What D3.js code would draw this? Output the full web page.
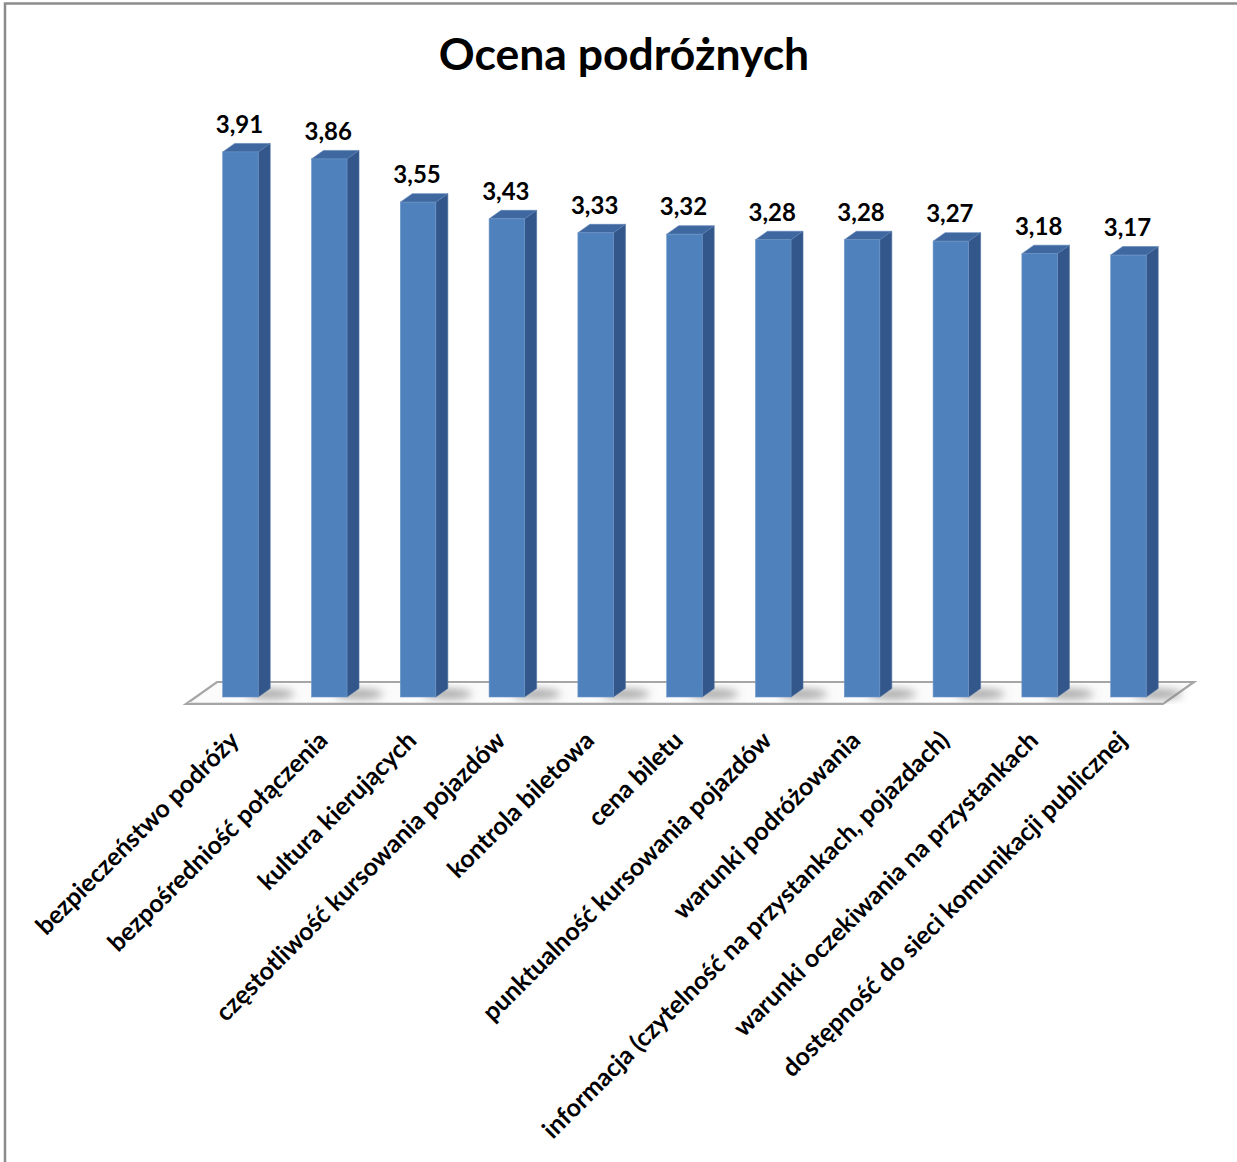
<!DOCTYPE html>
<html>
<head>
<meta charset="utf-8">
<script src="https://cdn.jsdelivr.net/npm/d3@7/dist/d3.min.js"></script>
<style>
  html, body { margin: 0; padding: 0; background: #fff; }
  svg { display: block; }
  text { font-family: Lato, "Open Sans", "DejaVu Sans", sans-serif; font-weight: bold; fill: #000; }
</style>
</head>
<body>
<script>
// Passenger ratings of public transport aspects
const categories = [
  "bezpieczeństwo podróży",
  "bezpośredniość połączenia",
  "kultura kierujących",
  "częstotliwość kursowania pojazdów",
  "kontrola biletowa",
  "cena biletu",
  "punktualność kursowania pojazdów",
  "warunki podróżowania",
  "informacja (czytelność na przystankach, pojazdach)",
  "warunki oczekiwania na przystankach",
  "dostępność do sieci komunikacji publicznej"
];
const values = [3.91, 3.86, 3.55, 3.43, 3.33, 3.32, 3.28, 3.28, 3.27, 3.18, 3.17];
const valueLabels = ["3,91", "3,86", "3,55", "3,43", "3,33", "3,32", "3,28", "3,28", "3,27", "3,18", "3,17"];
const title = "Ocena podróżnych";

const W = 1237, H = 1162;
const svg = d3.select("body").append("svg").attr("width", W).attr("height", H);

// outer chart frame (top and left edges visible)
svg.append("rect").attr("x", 5).attr("y", 3.5).attr("width", W + 10).attr("height", H + 10)
  .attr("fill", "none").attr("stroke", "#8c8c8c").attr("stroke-width", 2.5);

svg.append("text").attr("x", 624).attr("y", 70).attr("text-anchor", "middle")
  .attr("font-size", 44.5).text(title);

const base = 697;
const x = d3.scaleBand().domain(categories).range([178.3, 1190.6])
  .paddingInner(0.6).paddingOuter(0.5);
const y = d3.scaleLinear().domain([0, 4]).range([base, base - 4 * 139.4]);

// bar depth offsets (3-D extrusion)
const dx = 12, dy = -8.5;
// floor depth offsets
const fdx = 31, fdy = -22;

const defs = svg.append("defs");
defs.append("filter").attr("id", "soft").attr("x", "-50%").attr("y", "-50%")
  .attr("width", "200%").attr("height", "200%")
  .append("feGaussianBlur").attr("stdDeviation", 4);

// floor plane
const fl = 186, fr = 1163, ff = 704;
svg.append("path")
  .attr("d", `M${fl},${ff} L${fr},${ff} L${fr + fdx},${ff + fdy} L${fl + fdx},${ff + fdy} Z`)
  .attr("fill", "#fbfbfb").attr("stroke", "#a6a6a6").attr("stroke-width", 2.2)
  .attr("stroke-linejoin", "miter");
svg.append("path")
  .attr("d", `M${fl + 3},${ff - 1.5} L${fr - 1},${ff - 1.5}`)
  .attr("stroke", "#e2e2e2").attr("stroke-width", 1);

// soft shadows cast on the floor
const shadowG = svg.append("g").attr("filter", "url(#soft)");
categories.forEach((c) => {
  const x0 = x(c), w = x.bandwidth();
  shadowG.append("ellipse")
    .attr("cx", x0 + w + 12).attr("cy", base - 3).attr("rx", 24).attr("ry", 5)
    .attr("fill", "#7a7a7a").attr("opacity", 0.65);
});

// bars
const bars = svg.append("g").selectAll("g").data(categories).join("g");
bars.each(function (c, i) {
  const g = d3.select(this);
  const x0 = x(c), w = x.bandwidth(), yt = y(values[i]);
  // side face
  g.append("path")
    .attr("d", `M${x0 + w},${yt} L${x0 + w + dx},${yt + dy} L${x0 + w + dx},${base + dy} L${x0 + w},${base} Z`)
    .attr("fill", "#33578a").attr("stroke", "#4a6f9f").attr("stroke-width", 0.6);
  // top face
  g.append("path")
    .attr("d", `M${x0},${yt} L${x0 + dx},${yt + dy} L${x0 + w + dx},${yt + dy} L${x0 + w},${yt} Z`)
    .attr("fill", "#3f68a0").attr("stroke", "#5a81b4").attr("stroke-width", 0.6);
  // front face
  g.append("rect").attr("x", x0).attr("y", yt).attr("width", w).attr("height", base - yt)
    .attr("fill", "#4f81bd").attr("stroke", "#6f97c8").attr("stroke-width", 0.6);
  // value label
  g.append("text").attr("x", x0 + w / 2 - 1).attr("y", yt - 19)
    .attr("text-anchor", "middle").attr("font-size", 24).text(valueLabels[i]);
});

// rotated category labels
svg.append("g").selectAll("text").data(categories).join("text")
  .attr("text-anchor", "end").attr("font-size", 25)
  .attr("transform", (c) => `translate(${x(c) + x.bandwidth() / 2},${742}) rotate(-45)`)
  .text((c) => c);
</script>
</body>
</html>
